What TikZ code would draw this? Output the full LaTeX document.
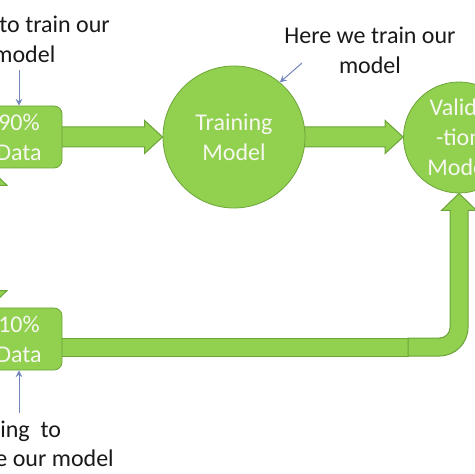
\documentclass[tikz,border=0pt]{standalone}
\usepackage{fontspec}
\setmainfont{Carlito}
\usetikzlibrary{calc,arrows,positioning,backgrounds}
\definecolor{cFill}{RGB}{146,208,80}
\definecolor{cEdge}{RGB}{108,164,58}
\definecolor{cLabel}{RGB}{246,248,240}
\definecolor{cNote}{RGB}{25,25,25}
\definecolor{cPtr}{RGB}{112,132,188}

\begin{document}
\begin{tikzpicture}[x=0.5pt,y=-0.5pt,>=stealth,
   box/.style={draw=cEdge,fill=cFill,rounded corners=4pt,align=center,text=cLabel,minimum width=43pt,minimum height=31pt,inner sep=0pt,font=\fontsize{12}{15}\selectfont},
   disc/.style={circle,draw=cEdge,fill=cFill,align=center,text=cLabel,inner sep=0pt,font=\fontsize{12}{15}\selectfont},
   blk/.style={draw=cEdge,fill=cFill,line width=0.5pt,line join=miter},
   note/.style={text=cNote,inner sep=0pt,font=\fontsize{12}{15}\selectfont},
   ptr/.style={->,cPtr,line width=0.5pt}]
  \useasboundingbox (0,0) rectangle (474,474);
  % data split and models
  \node[box] (d90) at (19,137) {90\%\\Data};
  \node[box] (d10) at (19,339) {10\%\\Data};
  \node[disc,minimum size=71pt] (train) at (234,137) {Training\\Model};
  \node[disc,minimum size=55.5pt] (val) at (459,137.5) {Valida\\-tion\\Model};
  % notes
  \node[note,anchor=base west] (tl1) at (-1,33) {to train our};
  \node[note,anchor=base west] (tl2) at (-7,63) {model};
  \node[note,align=center] (tr) at (370,50) {Here we train our\\model};
  \node[note,anchor=base west] (bl1) at (0,437) {ing\ \ to};
  \node[note,anchor=base west] (bl2) at (-5,466) {e our model};
  \coordinate (trptr) at (302,63);
  \draw[ptr] ($(tl2.base -| d90.north)+(0,7)$) -- (d90.north);
  \draw[ptr] ($(bl1.north -| d10.south)+(0,-7)$) -- (d10.south);
  \draw[ptr] (trptr) -- (train.50);
  % block arrows
  \begin{scope}[on background layer]
    \draw[blk] ($(d90.east)+(-3,-10)$) -- ($(train.west)+(-18,-10)$) -- ++(0,-6.5) -- (train.west)
          -- ++(-18,16.5) -- ++(0,-6.5) -- ($(d90.east)+(-3,10)$) -- cycle;
    \coordinate (a2tip) at (train.east -| val.west);
    \draw[blk] ($(train.east)+(-3,-10)$) -- ($(a2tip)+(-18,-10)$) -- ++(0,-6.5) -- (a2tip)
          -- ++(-18,16.5) -- ++(0,-6.5) -- ($(train.east)+(-3,10)$) -- cycle;
    \coordinate (p0) at ($(d10.east)+(-3,8)$);
    \coordinate (p1) at (val.south |- p0);
    \draw[blk] ($(p0)+(0,-9)$) rectangle ($(p1)+(-51,9)$);
    \draw[blk] ($(p1)+(-51,-9)$) -- ($(p1)+(-19.5,-9)$) arc[start angle=90,end angle=0,radius=10.5]
          -- ($(val.south)+(-9,17)$) -- ++(-8.5,0) -- (val.south) -- ++(17.5,17) -- ++(-8.5,0)
          -- ($(p1)+(9,-19.5)$) arc[start angle=0,end angle=90,radius=28.5] -- ($(p1)+(-51,9)$) -- cycle;
    \coordinate (u1) at ($(d90.south)+(-29.5,0)$);
    \draw[blk] (u1) -- ++(17.5,17) -- ++(-8.5,0) -- ++(0,60) -- ++(-18,0) -- ++(0,-60) -- ++(-8.5,0) -- cycle;
    \coordinate (u2) at ($(d10.north)+(-29.5,0)$);
    \draw[blk] (u2) -- ++(17.5,-17) -- ++(-8.5,0) -- ++(0,-60) -- ++(-18,0) -- ++(0,60) -- ++(-8.5,0) -- cycle;
  \end{scope}
\end{tikzpicture}
\end{document}
